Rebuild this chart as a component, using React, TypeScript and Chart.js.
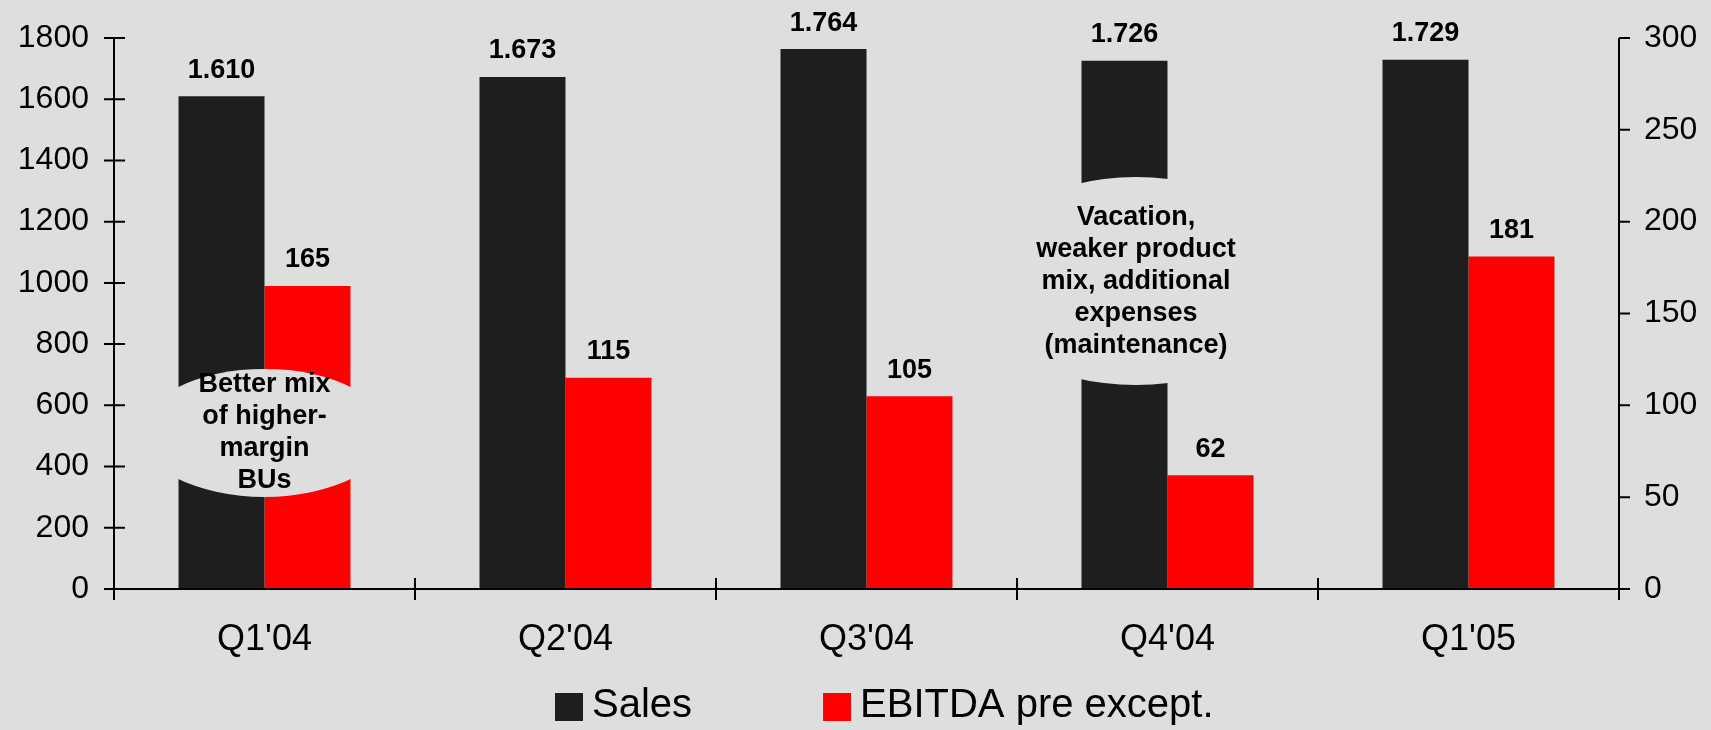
import React, { useEffect, useRef } from "react";
import { Chart, registerables } from "chart.js";

Chart.register(...registerables);

// ---- data ----
const categories = ["Q1'04", "Q2'04", "Q3'04", "Q4'04", "Q1'05"];
const seriesNames = ["Sales", "EBITDA pre except."];
const salesValues = [1610, 1673, 1764, 1726, 1729];
const ebitdaValues = [165, 115, 105, 62, 181];
const leftAxis = { min: 0, max: 1800, step: 200 };
const rightAxis = { min: 0, max: 300, step: 50 };
const noteQ1 = ["Better mix", "of higher-", "margin", "BUs"];
const noteQ4 = ["Vacation,", "weaker product", "mix, additional", "expenses", "(maintenance)"];

// ---- style ----
const BG = "#dedede";
const SALES_COLOR = "#1e1e1e";
const EBITDA_COLOR = "#ff0000";
const FONT = '"Liberation Sans", Arial, Helvetica, sans-serif';

const annotations = [
  { category: 0, value: 510, dx: 0, rx: 124, ry: 64, lines: noteQ1 },
  { category: 3, value: 1006, dx: -31.5, rx: 165, ry: 104, lines: noteQ4 },
];

function fmtThousands(v: number): string {
  if (v < 1000) return String(v);
  return Math.floor(v / 1000) + "." + String(v % 1000).padStart(3, "0");
}

const bgPlugin = {
  id: "bgFill",
  beforeDraw(chart: any) {
    const { ctx, width, height } = chart;
    ctx.save();
    ctx.fillStyle = BG;
    ctx.fillRect(0, 0, width, height);
    ctx.restore();
  },
};

const overlayPlugin = {
  id: "overlay",
  afterDatasetsDraw(chart: any) {
    const { ctx, chartArea, scales } = chart;
    const xs = scales.x;
    const yl = scales.y;
    const yr = scales.y1;
    ctx.save();

    // annotation ellipses + text
    annotations.forEach((a) => {
      const cx = xs.getPixelForValue(a.category) + a.dx;
      const cy = yl.getPixelForValue(a.value);
      ctx.fillStyle = BG;
      ctx.beginPath();
      ctx.ellipse(cx, cy, a.rx, a.ry, 0, 0, Math.PI * 2);
      ctx.fill();
      ctx.fillStyle = "#000";
      ctx.font = `bold 27px ${FONT}`;
      ctx.textAlign = "center";
      ctx.textBaseline = "middle";
      a.lines.forEach((l, i) => {
        ctx.fillText(l, cx, cy + (i - (a.lines.length - 1) / 2) * 32);
      });
    });

    // data labels
    ctx.fillStyle = "#000";
    ctx.font = `bold 27px ${FONT}`;
    ctx.textAlign = "center";
    ctx.textBaseline = "alphabetic";
    chart.data.datasets.forEach((ds: any, di: number) => {
      const meta = chart.getDatasetMeta(di);
      meta.data.forEach((bar: any, i: number) => {
        const v = ds.data[i];
        const text = di === 0 ? fmtThousands(v) : String(v);
        ctx.fillText(text, bar.x, bar.y - 18.5);
      });
    });

    // axes
    ctx.strokeStyle = "#000";
    ctx.lineWidth = 2;
    const L = chartArea.left;
    const R = chartArea.right;
    const T = chartArea.top;
    const B = chartArea.bottom;
    ctx.beginPath();
    ctx.moveTo(L, T);
    ctx.lineTo(L, B + 11);
    ctx.moveTo(R, T);
    ctx.lineTo(R, B + 11);
    ctx.moveTo(L - 10, B);
    ctx.lineTo(R + 11, B);
    yl.ticks.forEach((t: any) => {
      const y = yl.getPixelForValue(t.value);
      ctx.moveTo(L - 10, y);
      ctx.lineTo(L + 11, y);
    });
    yr.ticks.forEach((t: any) => {
      const y = yr.getPixelForValue(t.value);
      ctx.moveTo(R, y);
      ctx.lineTo(R + 11, y);
    });
    for (let i = 1; i < categories.length; i++) {
      const x = (xs.getPixelForValue(i - 1) + xs.getPixelForValue(i)) / 2;
      ctx.moveTo(x, B - 11);
      ctx.lineTo(x, B + 11);
    }
    ctx.stroke();

    // legend
    ctx.font = `40px ${FONT}`;
    ctx.textAlign = "left";
    ctx.textBaseline = "middle";
    let lx = 555;
    chart.data.datasets.forEach((ds: any) => {
      ctx.fillStyle = ds.backgroundColor;
      ctx.fillRect(lx, 693, 28, 28);
      ctx.fillStyle = "#000";
      ctx.fillText(ds.label, lx + 37, 705.5);
      lx += 37 + ctx.measureText(ds.label).width + 131;
    });

    ctx.restore();
  },
};

export default function App() {
  const canvasRef = useRef<HTMLCanvasElement | null>(null);

  useEffect(() => {
    document.body.style.margin = "0";
    document.body.style.background = BG;
    const canvas = canvasRef.current;
    if (!canvas) return;
    const chart = new Chart(canvas, {
      type: "bar",
      data: {
        labels: categories,
        datasets: [
          {
            label: seriesNames[0],
            data: salesValues,
            backgroundColor: SALES_COLOR,
            yAxisID: "y",
            categoryPercentage: 0.5714,
            barPercentage: 1,
          },
          {
            label: seriesNames[1],
            data: ebitdaValues,
            backgroundColor: EBITDA_COLOR,
            yAxisID: "y1",
            categoryPercentage: 0.5714,
            barPercentage: 1,
          },
        ],
      },
      options: {
        responsive: false,
        maintainAspectRatio: false,
        animation: false,
        devicePixelRatio: 1,
        layout: { padding: { top: 38, left: 0, right: 0, bottom: 0 } },
        plugins: {
          legend: { display: false },
          tooltip: { enabled: false },
          title: { display: false },
        },
        scales: {
          x: {
            grid: { display: false, drawTicks: false },
            border: { display: false },
            ticks: {
              color: "#000",
              font: { family: FONT, size: 36, lineHeight: 1 },
              padding: 33,
              maxRotation: 0,
              minRotation: 0,
            },
            afterFit: (s: any) => {
              s.height = 141;
            },
          },
          y: {
            position: "left",
            min: leftAxis.min,
            max: leftAxis.max,
            grid: { display: false, drawTicks: false },
            border: { display: false },
            ticks: {
              stepSize: leftAxis.step,
              color: "#000",
              font: { family: FONT, size: 32, lineHeight: 0.4 },
              padding: 25,
              callback: (v: any) => String(v),
            },
            afterFit: (s: any) => {
              s.width = 114;
            },
          },
          y1: {
            position: "right",
            min: rightAxis.min,
            max: rightAxis.max,
            grid: { display: false, drawTicks: false },
            border: { display: false },
            ticks: {
              stepSize: rightAxis.step,
              color: "#000",
              font: { family: FONT, size: 32, lineHeight: 0.4 },
              padding: 25,
              callback: (v: any) => String(v),
            },
            afterFit: (s: any) => {
              s.width = 92;
            },
          },
        },
      },
      plugins: [bgPlugin, overlayPlugin],
    } as any);
    return () => chart.destroy();
  }, []);

  return (
    <div style={{ width: 1711, height: 730, background: BG }}>
      <canvas ref={canvasRef} width={1711} height={730} style={{ display: "block" }} />
    </div>
  );
}
